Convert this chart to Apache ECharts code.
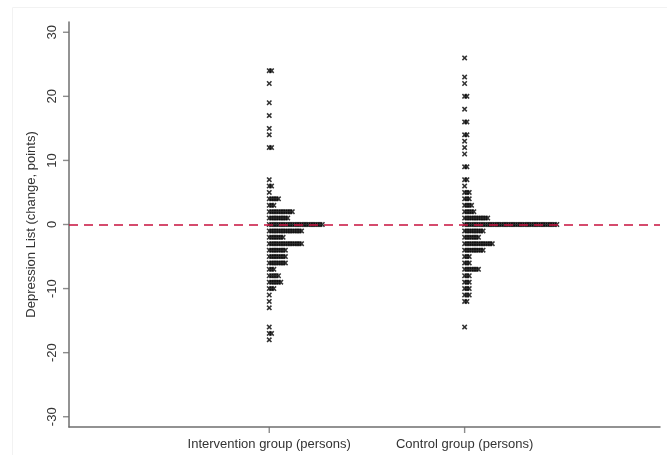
<!DOCTYPE html>
<html>
<head>
<meta charset="utf-8">
<script src="https://cdn.jsdelivr.net/npm/echarts@6/dist/echarts.min.js"></script>
<style>
html,body{margin:0;padding:0;background:#fff;}
#chart{width:667px;height:455px;}
</style>
</head>
<body>
<div id="chart"></div>
<script>
// Data: change in Depression List score (points) and number of persons at each value
const groupNames = ['Intervention group (persons)', 'Control group (persons)'];
const interventionValues = [24,22,19,17,15,14,12,7,6,5,4,3,2,1,0,-1,-2,-3,-4,-5,-6,-7,-8,-9,-10,-11,-12,-13,-16,-17,-18];
const interventionCounts = [2,1,1,1,1,1,2,1,2,1,5,3,11,9,24,15,7,15,8,8,8,3,5,6,3,1,1,1,1,2,1];
const controlValues = [26,23,22,20,18,16,14,13,12,11,9,7,6,5,4,3,2,1,0,-1,-2,-3,-4,-5,-6,-7,-8,-9,-10,-11,-12,-16];
const controlCounts = [1,1,1,2,1,2,2,1,1,1,2,2,1,3,3,4,5,11,41,9,7,13,9,3,3,7,3,3,3,3,2,1];
const yTickLabels = [-30,-20,-10,0,10,20,30];

const groupPos = [1, 2];
const step = 0.0118;
const xMin = -0.025, xMax = 3, yMin = -31.6, yMax = 31.6;

function dots(values, counts, pos) {
  const out = [];
  values.forEach((v, k) => {
    for (let i = 0; i < counts[k]; i++) out.push([pos + i * step, v]);
  });
  return out;
}

const crossPath = 'path://M0,2L2,0L5,3L8,0L10,2L7,5L10,8L8,10L5,7L2,10L0,8L3,5Z';
const axisGray = '#6f6f6f';
const fontFam = 'Liberation Sans, Arial, sans-serif';

const chart = echarts.init(document.getElementById('chart'), null, {renderer: 'canvas'});
chart.setOption({
  animation: false,
  backgroundColor: '#ffffff',
  graphic: [{type: 'rect', left: 10, top: 5, shape: {width: 655, height: 448},
    style: {fill: 'none', stroke: '#f2f2f2', lineWidth: 1}, silent: true, z: -1}],
  grid: {left: 69, right: 7, top: 22, bottom: 28, outerBoundsMode: 'none'},
  xAxis: {
    type: 'value', min: xMin, max: xMax,
    axisLine: {show: true, onZero: false, lineStyle: {color: axisGray, width: 1.5}},
    axisTick: {show: false},
    axisLabel: {
      customValues: groupPos,
      formatter: v => groupNames[Math.round(v) - 1] || '',
      color: '#333', fontFamily: fontFam, fontSize: 13, margin: 11
    },
    splitLine: {show: false}
  },
  yAxis: {
    type: 'value', min: yMin, max: yMax,
    name: 'Depression List (change, points)', nameLocation: 'middle', nameGap: 26,
    nameTextStyle: {color: '#333', fontFamily: fontFam, fontSize: 13},
    axisLine: {show: true, onZero: false, lineStyle: {color: axisGray, width: 1.5}},
    axisTick: {show: false},
    axisLabel: {
      customValues: yTickLabels, rotate: 90, margin: 10,
      color: '#333', fontFamily: fontFam, fontSize: 13
    },
    splitLine: {show: false}
  },
  series: [
    {
      type: 'scatter', name: groupNames[0], data: dots(interventionValues, interventionCounts, groupPos[0]),
      symbol: crossPath, symbolSize: 5.5, itemStyle: {color: '#000'}, z: 3,
      markLine: {
        silent: true, symbol: 'none', label: {show: false},
        lineStyle: {color: '#c8103e', type: [9, 6], width: 1.5},
        data: [{yAxis: 0}]
      }
    },
    {
      type: 'scatter', name: groupNames[1], data: dots(controlValues, controlCounts, groupPos[1]),
      symbol: crossPath, symbolSize: 5.5, itemStyle: {color: '#000'}, z: 3
    },
    {
      // y-axis tick marks
      type: 'scatter', silent: true, clip: false, z: 10,
      data: yTickLabels.map(v => [xMin, v]),
      symbol: 'rect', symbolSize: [6, 1.4], symbolOffset: [-3, 0],
      itemStyle: {color: axisGray}
    },
    {
      // x-axis tick marks
      type: 'scatter', silent: true, clip: false, z: 10,
      data: groupPos.map(v => [v, yMin]),
      symbol: 'rect', symbolSize: [1.4, 6], symbolOffset: [0, 3],
      itemStyle: {color: axisGray}
    }
  ]
});
</script>
</body>
</html>
